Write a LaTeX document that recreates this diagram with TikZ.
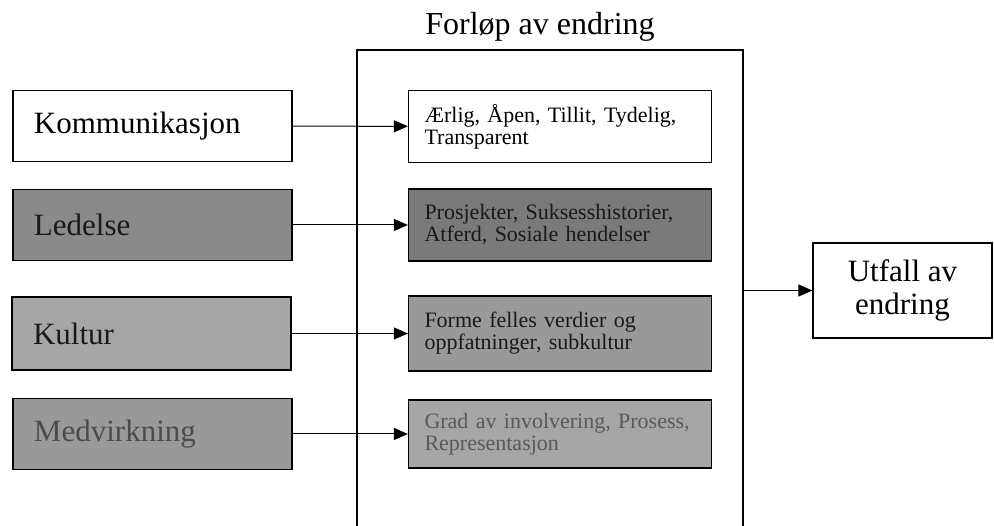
\documentclass[tikz,border=0pt]{standalone}
\usepackage{fontspec}
\setmainfont{Liberation Serif}
\usepackage{xcolor}
\usetikzlibrary{arrows.meta,positioning}

\definecolor{graydark}{gray}{0.54}
\definecolor{graydeep}{gray}{0.48}
\definecolor{graymid}{gray}{0.60}
\definecolor{graylight}{gray}{0.65}

\begin{document}
\begin{tikzpicture}[
x=1pt,
y=-1pt,
big/.style={font=\fontsize{31}{33}\selectfont},
small/.style={font=\fontsize{22}{22}\selectfont},
factor/.style={rectangle,draw,line width=1.2pt,big,align=left,inner xsep=21pt,text width=237pt,minimum width=279pt,minimum height=71pt},
effect/.style={rectangle,draw,line width=1.2pt,small,align=left,inner xsep=16pt,text width=271pt,minimum width=303pt,minimum height=72pt},
arr/.style={-{Triangle[length=14pt,width=12pt]},line width=1pt}
]
\useasboundingbox (0,0) rectangle (994,526);
\clip (0,0) rectangle (994,526);
\node[rectangle,draw,line width=1.5pt,minimum width=386pt,minimum height=500pt] (forlop) at (550,300) {};
\node[font=\fontsize{32}{34}\selectfont,anchor=base] (title) at (540,35) {Forløp av endring};

\node[factor,fill=white] (komm) at (152.5,126) {Kommunikasjon};
\node[factor,fill=graydark,text=black!90] (led) at (152.5,225) {Ledelse};
\node[factor,fill=graylight,text=black!90,minimum height=73pt] (kult) at (151.5,333.5) {Kultur};
\node[factor,fill=graymid,text=black!70] (medv) at (152.5,434) {Medvirkning};

\node[effect,fill=white,minimum height=72pt] (aapen) at (560,126.5) {Ærlig, Åpen, Tillit, Tydelig,\\Transparent};
\node[effect,fill=graydeep,text=black!90] (prosj) at (560,225) {Prosjekter, Suksesshistorier,\\Atferd, Sosiale hendelser};
\node[effect,fill=graymid,text=black!90,minimum height=75pt] (verdi) at (560,333.5) {Forme felles verdier og\\oppfatninger, subkultur};
\node[effect,fill=graylight,text=black!65,minimum height=68pt] (grad) at (560,434) {Grad av involvering, Prosess,\\Representasjon};

\node[rectangle,draw,line width=1.2pt,big,align=center,minimum width=179pt,minimum height=95pt] (utfall) at (902.5,290.5) {Utfall av\\endring};

\draw[arr] (komm) -- (aapen);
\draw[arr] (led) -- (prosj);
\draw[arr] (kult) -- (verdi);
\draw[arr] (medv) -- (grad);
\draw[arr] (forlop.east |- utfall.west) -- (utfall.west);
\end{tikzpicture}
\end{document}
